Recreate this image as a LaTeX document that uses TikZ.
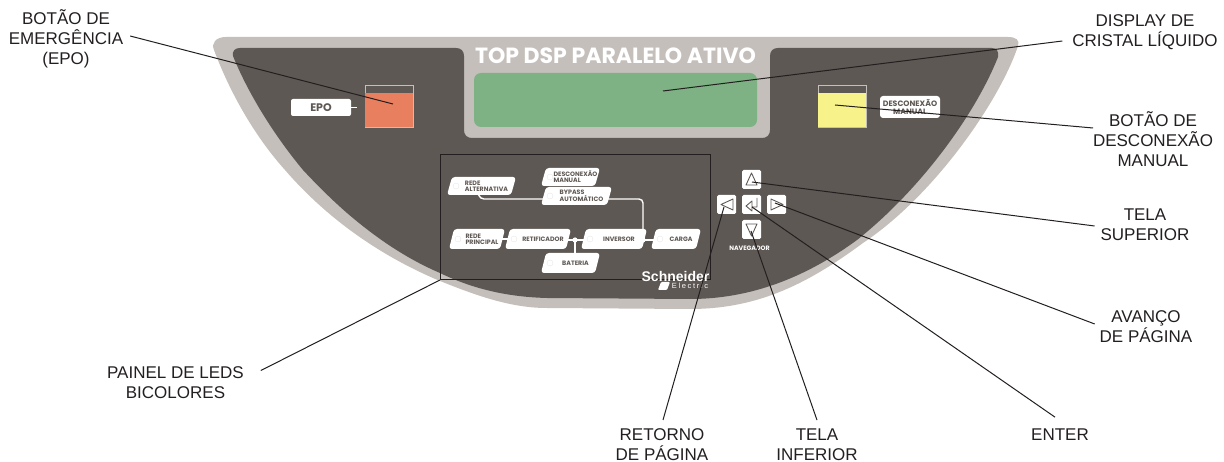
\documentclass[tikz,border=0pt]{standalone}
\usepackage{fontspec}
\setmainfont{Liberation Sans}
\newfontfamily\panelfont{Poppins}
\definecolor{bandgray}{HTML}{C4BFBB}
\definecolor{paneldark}{HTML}{5E5854}
\definecolor{lcdgreen}{HTML}{7EB183}
\definecolor{eposalmon}{HTML}{E8805F}
\definecolor{desyellow}{HTML}{F8F28B}
\definecolor{inkblack}{HTML}{231F20}
\tikzset{
	callout/.style={font=\fontsize{17}{20}\selectfont, text=inkblack, align=center, inner sep=0pt, outer sep=0pt},
	leader/.style={draw=inkblack, line width=1pt},
	ledtag/.style={font=\panelfont\bfseries\fontsize{6.3}{5.8}\selectfont, text=paneldark, align=left, inner sep=0pt},
	ledline/.style={draw=white, line width=1.4pt, rounded corners=4pt},
	navkey/.style={fill=white, rounded corners=1.5pt, minimum size=19pt, inner sep=0pt},
	navglyph/.style={draw=paneldark, line width=0.9pt, line join=round},
	switchbox/.style={draw=bandgray, line width=0.6pt, minimum width=48pt, minimum height=42pt, inner sep=0pt},
}
\newcommand{\ledbox}[6]{%name, left, top, right, bottom, text
	\fill[white, rounded corners=3pt] (#2+5,#3)--(#4,#3)--(#4-5,#5)--(#2,#5)--cycle;
	\draw[gray!20, line width=0.3pt] (#2+9,{(#3+#5)/2}) circle (3);
	\node[ledtag] (#1) at ({(#2+#4)/2+5},{(#3+#5)/2}) {#6};
}
\begin{document}
\begin{tikzpicture}[x=1pt,y=-1pt]
	\useasboundingbox (0,0) rectangle (1224,462);
	% panel
	\filldraw[fill=bandgray, draw=none] (226,37)--(1008,37) .. controls (1016,37) and (1020,40) .. (1018,46)
		.. controls (1000,100) and (935,195) .. (863,243) .. controls (810,282) and (760,309) .. (690,309)
		--(547,308) .. controls (510,308) and (475,295) .. (440,281) .. controls (385,258) and (330,222) .. (285,170)
		.. controls (258,140) and (232,98) .. (214,50) .. controls (211,43) and (216,37) .. (226,37)--cycle;
	\filldraw[fill=paneldark, draw=none] (240,48)--(456,48) .. controls (461,48) and (464,51) .. (464,56)
		--(464,130) .. controls (464,135) and (467,138) .. (472,138)--(762,138) .. controls (767,138) and (770,135) .. (770,130)
		--(770,56) .. controls (770,51) and (773,48) .. (778,48)--(992,48) .. controls (997,48) and (999,52) .. (998,57)
		.. controls (975,115) and (920,190) .. (857,240) .. controls (805,278) and (750,299) .. (690,299)--(547,298)
		.. controls (510,297) and (475,290) .. (440,273) .. controls (405,258) and (375,237) .. (347,213)
		.. controls (331,199) and (317,185) .. (303,170) .. controls (278,140) and (250,98) .. (233,56)
		.. controls (232,51) and (235,48) .. (240,48)--cycle;
	\filldraw[fill=lcdgreen, draw=none, rounded corners=7pt] (474,73) rectangle (757,127);
	\node[font=\panelfont\bfseries\fontsize{22}{22}\selectfont, text=white, inner sep=0pt] (titletext) at (615.5,56) {TOP DSP PARALELO ATIVO};
	% switches
	\node[switchbox] (eposwitch) at (389,106) {};
	\fill[eposalmon] (365,93) rectangle (413,127);
	\node[switchbox] (desswitch) at (842,106) {};
	\fill[desyellow] (818,93) rectangle (866,127);
	\node[fill=white, rounded corners=2pt, minimum width=60pt, minimum height=17pt, inner sep=0pt, text=paneldark, font=\panelfont\bfseries\fontsize{11}{11}\selectfont] (epotag) at (321,107.5) {EPO};
	\draw[white, line width=1pt] (epotag.east)--(357,107.5);
	\node[fill=white, rounded corners=3pt, minimum width=60pt, minimum height=22pt, inner sep=0pt, align=center, text=paneldark, font=\panelfont\bfseries\fontsize{7.8}{8}\selectfont] (destag) at (910,107) {DESCONEXÃO\\MANUAL};
	% led mimic
	\draw[inkblack, line width=1pt] (440,155) rectangle (710,280);
	\draw[ledline] (478,193)--(480,199)--(545,199);
	\draw[ledline] (606,199)--(643,199)--(643,240);
	\draw[white, line width=1.4pt] (500,239)--(510,239) (566,240)--(585,240) (640,240)--(656,240) (575,240)--(575,255);
	\fill[white] (575,240) circle (2.6) (643,240) circle (2.6);
	\ledbox{redealt}{447}{177}{516}{195}{REDE\\ALTERNATIVA}
	\ledbox{desled}{541}{168}{600}{186}{DESCONEXÃO\\MANUAL}
	\ledbox{bypassled}{541}{187}{612}{205}{BYPASS\\AUTOMÁTICO}
	\ledbox{redeprin}{449}{229}{505}{249}{REDE\\PRINCIPAL}
	\ledbox{retled}{505}{229}{571}{249}{RETIFICADOR}
	\ledbox{invled}{581}{229}{647}{249}{INVERSOR}
	\ledbox{cargaled}{651}{229}{701}{249}{CARGA}
	\ledbox{batled}{541}{253}{600}{273}{BATERIA}
	\node[font=\bfseries\fontsize{14}{14}\selectfont, text=white, inner sep=0pt] (brandtop) at (675.5,276) {Schneider};
	\node[font=\fontsize{7.5}{7.5}\selectfont, text=white, inner sep=0pt] (brandlow) at (690,286) {\addfontfeature{LetterSpace=22}Electric};
	\fill[white, rounded corners=1pt] (661,282)--(670,282)--(667,290)--(658,290)--cycle;
	% navigator
	\node[navkey] (keyup) at (751.5,179.5) {};
	\node[navkey] (keyleft) at (726.5,204.5) {};
	\node[navkey] (keyenter) at (751.5,204.5) {};
	\node[navkey] (keyright) at (776.5,204.5) {};
	\node[navkey] (keydown) at (751.5,229.5) {};
	\draw[navglyph] (751.5,173)--(757,185)--(746,185)--cycle;
	\draw[navglyph] (721,204.5)--(733,199)--(733,210)--cycle;
	\draw[navglyph] (771,199)--(783,204.5)--(771,210)--cycle;
	\draw[navglyph] (751.5,236)--(757,224)--(746,224)--cycle;
	\draw[navglyph] (757,198)--(757,207)--(752,207) (752,201)--(746,206)--(752,211)--cycle;
	\node[font=\panelfont\bfseries\fontsize{6.3}{6.3}\selectfont, text=white, inner sep=0pt] (navtext) at (749.5,248) {NAVEGADOR};
	% callouts
	\node[callout] (lblepo) at (66,39) {BOTÃO DE\\EMERGÊNCIA\\(EPO)};
	\node[callout] (lbldisplay) at (1145,32) {DISPLAY DE\\CRISTAL LÍQUIDO};
	\node[callout] (lbldes) at (1153,139) {BOTÃO DE\\DESCONEXÃO\\MANUAL};
	\node[callout] (lblup) at (1145,225) {TELA\\SUPERIOR};
	\node[callout] (lblnext) at (1146,327) {AVANÇO\\DE PÁGINA};
	\node[callout] (lblenter) at (1060,435) {ENTER};
	\node[callout] (lbldown) at (817,445) {TELA\\INFERIOR};
	\node[callout] (lblback) at (662,445) {RETORNO\\DE PÁGINA};
	\node[callout] (lblleds) at (175.5,382.5) {PAINEL DE LEDS\\BICOLORES};
	\coordinate (tipepo) at (393,104);
	\coordinate (tipdisplay) at (663,91);
	\coordinate (tipdes) at (835,105);
	\coordinate (tipup) at (752,182);
	\coordinate (tipnext) at (775,203);
	\coordinate (tipenter) at (752,207);
	\coordinate (tipdown) at (751,231);
	\coordinate (tipback) at (724,207);
	\coordinate (tipleds) at (440,280);
	\draw[leader] ([shift={(7,-3)}]lblepo.east)--(tipepo);
	\draw[leader] ([shift={(-10,9)}]lbldisplay.west)--(tipdisplay);
	\draw[leader] ([shift={(0,-11)}]lbldes.west)--(tipdes);
	\draw[leader] ([shift={(-6,1)}]lblup.west)--(tipup);
	\draw[leader] ([shift={(-5,-3)}]lblnext.west)--(tipnext);
	\draw[leader] ([shift={(-5,-12)}]lblenter.north)--(tipenter);
	\draw[leader] ([shift={(0,-9)}]lbldown.north)--(tipdown);
	\draw[leader] ([shift={(1,-9)}]lblback.north)--(tipback);
	\draw[leader] ([shift={(17,-12)}]lblleds.east)--(tipleds);
\end{tikzpicture}
\end{document}
